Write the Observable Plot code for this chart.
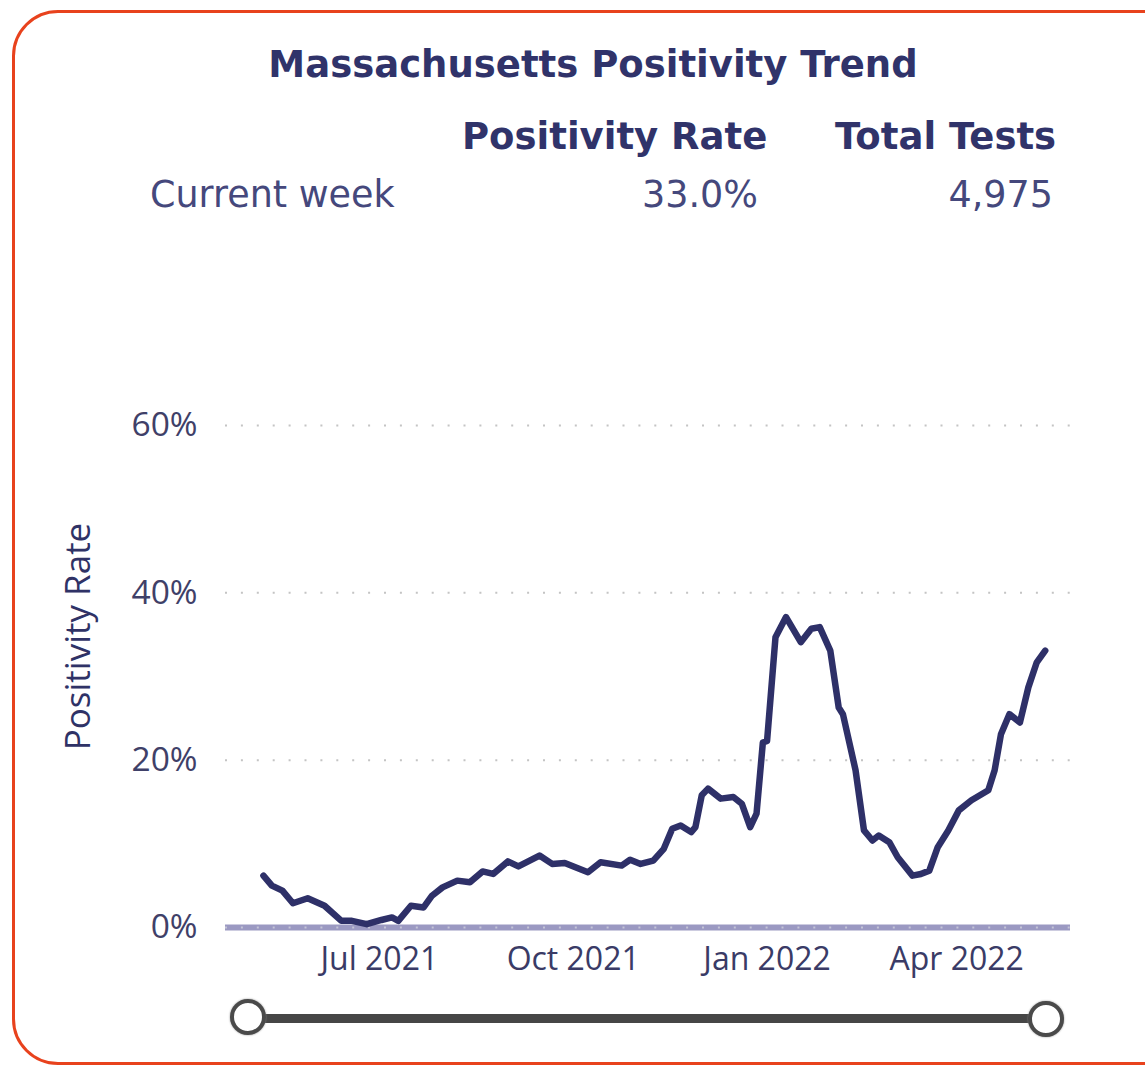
<!DOCTYPE html>
<html>
<head>
<meta charset="utf-8">
<script src="https://cdn.jsdelivr.net/npm/d3@7"></script>
<script src="https://cdn.jsdelivr.net/npm/@observablehq/plot@0.6"></script>
<style>
  html, body { margin: 0; padding: 0; background: #fff; }
  body { width: 1145px; height: 1071px; position: relative; overflow: hidden; font-family: "DejaVu Sans", sans-serif; }
  .card { position: absolute; left: 12px; top: 10px; width: 1180px; height: 1055px; border: 3px solid #e8421d; border-radius: 46px; box-sizing: border-box; }
  .t { position: absolute; white-space: nowrap; line-height: 36px; font-size: 36px; }
  .b { font-weight: bold; color: #30336a; font-size: 37px; }
  .r { color: #45487c; font-size: 36.5px; }
  #chart { position: absolute; left: 0; top: 400px; }
  .track { position: absolute; left: 250px; top: 1014px; width: 796px; height: 9px; background: #464646; }
  .knob { position: absolute; width: 28px; height: 28px; border: 4px solid #4a4a4a; border-radius: 50%; background: #fff; box-shadow: 0 0 2px #888; }
</style>
</head>
<body>
<div class="card"></div>
<div class="t b" id="title" style="left:593px; top:47px; transform:translateX(-50%);"></div>
<div class="t b" id="h1" style="left:462px; top:119px;"></div>
<div class="t b" id="h2" style="left:835px; top:119px;"></div>
<div class="t r" id="rowlabel" style="left:150px; top:177px;"></div>
<div class="t r" id="v1" style="right:387px; top:177px;"></div>
<div class="t r" id="v2" style="right:92px; top:177px;"></div>
<div id="chart"></div>
<div class="track"></div>
<div class="knob" style="left:230px; top:999px;"></div>
<div class="knob" style="left:1028px; top:1001px;"></div>
<script>
// ---- Text ----
const titleText = "Massachusetts Positivity Trend";
const headerLabels = ["Positivity Rate", "Total Tests"];
const rowLabel = "Current week";
const currentValues = ["33.0%", "4,975"];
const yAxisLabel = "Positivity Rate";

// ---- Data (positivity rate, %) ----
const dates = ["2021-05-07","2021-05-11","2021-05-16","2021-05-21","2021-05-28","2021-06-05","2021-06-13","2021-06-18","2021-06-25",
  "2021-07-02","2021-07-07","2021-07-10","2021-07-16","2021-07-22","2021-07-26","2021-07-31","2021-08-07","2021-08-13","2021-08-19","2021-08-24","2021-08-31",
  "2021-09-05","2021-09-15","2021-09-21","2021-09-27","2021-10-08","2021-10-14","2021-10-24","2021-10-28",
  "2021-11-02","2021-11-08","2021-11-13","2021-11-17","2021-11-21","2021-11-26","2021-11-28",
  "2021-12-01","2021-12-04","2021-12-10","2021-12-16","2021-12-20","2021-12-24","2021-12-27","2021-12-30",
  "2022-01-01","2022-01-05","2022-01-10","2022-01-17","2022-01-22","2022-01-26","2022-01-31",
  "2022-02-04","2022-02-06","2022-02-12","2022-02-16","2022-02-20","2022-02-23","2022-02-28",
  "2022-03-04","2022-03-11","2022-03-15","2022-03-19","2022-03-23","2022-03-28",
  "2022-04-02","2022-04-08","2022-04-16","2022-04-19","2022-04-22","2022-04-26",
  "2022-05-01","2022-05-05","2022-05-09","2022-05-13"];
const rates = [6.2,5.0,4.4,2.9,3.5,2.6,0.8,0.8,0.4,
  0.9,1.2,0.8,2.6,2.4,3.8,4.8,5.6,5.4,6.7,6.4,7.9,
  7.3,8.6,7.6,7.7,6.6,7.8,7.4,8.1,
  7.6,8.0,9.4,11.8,12.2,11.4,12.0,
  15.8,16.6,15.4,15.6,14.8,12.0,13.6,22.1,
  22.3,34.7,37.1,34.1,35.7,35.9,33.1,
  26.3,25.5,18.8,11.6,10.4,11.0,10.2,
  8.4,6.2,6.4,6.8,9.6,11.6,
  14.0,15.2,16.4,18.8,23.1,25.5,
  24.5,28.7,31.7,33.1];
const xTicks = ["2021-07-01","2021-10-01","2022-01-01","2022-04-01"];
const yTicks = [0, 20, 40, 60];
const xDomain = ["2021-04-19", "2022-05-25"];

document.getElementById("title").textContent = titleText;
document.getElementById("h1").textContent = headerLabels[0];
document.getElementById("h2").textContent = headerLabels[1];
document.getElementById("rowlabel").textContent = rowLabel;
document.getElementById("v1").textContent = currentValues[0];
document.getElementById("v2").textContent = currentValues[1];

const parse = d3.utcParse("%Y-%m-%d");
const data = dates.map((d, i) => ({date: parse(d), rate: rates[i]}));

const chart = Plot.plot({
  width: 1145,
  height: 587,
  marginTop: 25,
  marginBottom: 60,
  marginLeft: 225,
  marginRight: 75,
  style: {fontFamily: "'Open Sans', sans-serif", fontSize: "32px", background: "transparent", overflow: "visible"},
  x: {type: "utc", domain: xDomain.map(parse)},
  y: {domain: [0, 60]},
  marks: [
    Plot.ruleY(yTicks.filter(d => d > 0), {stroke: "#c4c4c4", strokeWidth: 2, strokeDasharray: "2,13.9"}),
    Plot.ruleY([0], {stroke: "#9b99c2", strokeWidth: 6}),
    Plot.ruleY([0], {stroke: "#c4c4d6", strokeWidth: 2, strokeDasharray: "2,13.9"}),
    Plot.axisX({ticks: xTicks.map(parse), tickFormat: d3.utcFormat("%b %Y"), tickSize: 0, tickPadding: 20, label: null, fill: "#3a3b66", fontSize: 32}),
    Plot.axisY({ticks: yTicks, tickFormat: d => d + "%", tickSize: 0, tickPadding: 28, label: null, fill: "#3f4068", fontSize: 33.5}),
    Plot.text([yAxisLabel], {text: d => d, frameAnchor: "left", rotate: -90, textAnchor: "middle", lineAnchor: "top", dx: -160, dy: -40, fontSize: 35, fill: "#2f3266"}),
    Plot.line(data, {x: "date", y: "rate", stroke: "#2e3068", strokeWidth: 6.5, strokeLinejoin: "round", strokeLinecap: "round"})
  ]
});
document.getElementById("chart").appendChild(chart);
</script>
</body>
</html>
